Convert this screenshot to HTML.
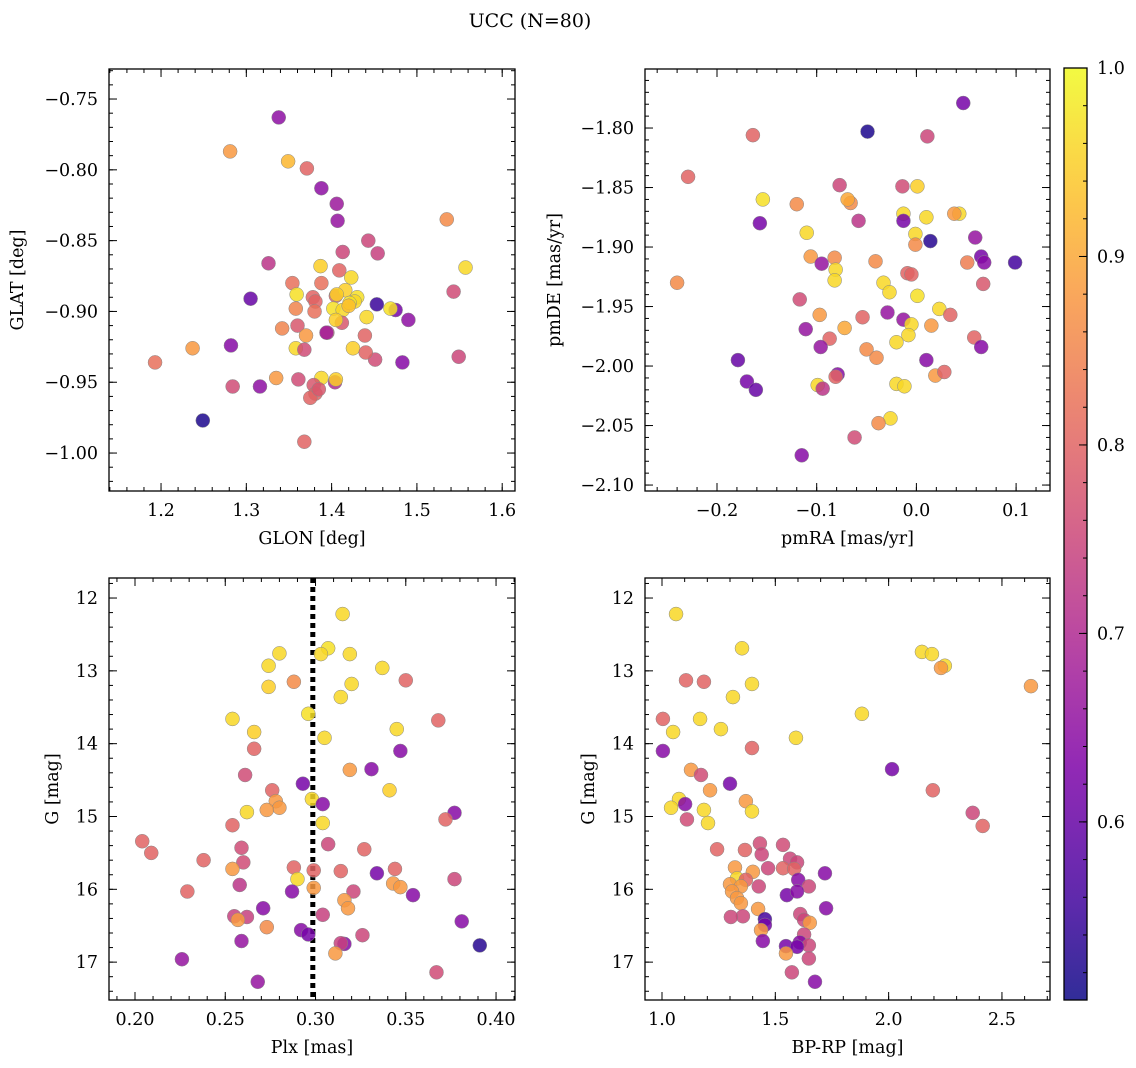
<!DOCTYPE html>
<html><head><meta charset="utf-8"><style>
body{margin:0;background:#fff}
svg{display:block;font-family:"DejaVu Serif","Liberation Serif",serif}
</style></head><body>
<svg id="fig" width="1136" height="1068" viewBox="0 0 1136 1068" xmlns="http://www.w3.org/2000/svg">
<text x="530" y="27" font-size="19" text-anchor="middle">UCC (N=80)</text>
</svg>
<script>
// ---- data (panel 1: GLON / GLAT) ----
const glon=[1.338,1.281,1.349,1.371,1.388,1.406,1.407,1.535,1.443,1.454,1.413,1.326,1.557,1.387,1.409,1.423,1.354,1.359,1.378,1.381,1.543,1.405,1.416,1.430,1.427,1.305,1.453,1.475,1.469,1.358,1.380,1.402,1.413,1.421,1.490,1.360,1.342,1.412,1.395,1.394,1.441,1.405,1.370,1.439,1.425,1.358,1.368,1.237,1.282,1.549,1.451,1.440,1.335,1.361,1.388,1.404,1.379,1.405,1.284,1.316,1.381,1.375,1.385,1.249,1.368,1.193,1.483,1.406,1.420,1.388];
const glat=[-0.763,-0.787,-0.794,-0.799,-0.813,-0.824,-0.836,-0.835,-0.850,-0.859,-0.858,-0.866,-0.869,-0.868,-0.871,-0.876,-0.880,-0.888,-0.890,-0.893,-0.886,-0.889,-0.885,-0.890,-0.893,-0.891,-0.895,-0.899,-0.898,-0.898,-0.900,-0.898,-0.899,-0.894,-0.906,-0.910,-0.912,-0.908,-0.915,-0.915,-0.904,-0.906,-0.917,-0.917,-0.926,-0.926,-0.927,-0.926,-0.924,-0.932,-0.934,-0.929,-0.947,-0.948,-0.947,-0.950,-0.952,-0.948,-0.953,-0.953,-0.958,-0.961,-0.955,-0.977,-0.992,-0.936,-0.936,-0.888,-0.896,-0.880];
const prob1=[0.65,0.88,0.92,0.80,0.65,0.67,0.66,0.86,0.75,0.74,0.75,0.72,0.96,0.95,0.80,0.96,0.82,0.97,0.80,0.80,0.76,0.80,0.95,0.97,0.96,0.60,0.55,0.62,0.97,0.85,0.82,0.97,0.96,0.97,0.65,0.78,0.85,0.78,0.75,0.68,0.96,0.95,0.88,0.80,0.95,0.96,0.76,0.88,0.64,0.75,0.76,0.80,0.88,0.76,0.96,0.70,0.78,0.95,0.76,0.65,0.80,0.80,0.78,0.52,0.80,0.82,0.64,0.95,0.93,0.82];
// ---- data (panel 2: pmRA / pmDE) ----
const pmra=[-0.164,0.047,-0.049,0.011,-0.229,-0.154,-0.077,-0.120,-0.014,0.001,-0.066,-0.069,-0.013,0.010,0.043,0.038,-0.058,-0.013,-0.157,-0.110,-0.001,0.014,0.059,-0.001,0.099,-0.106,-0.095,-0.082,-0.041,0.065,0.068,0.051,-0.009,-0.005,-0.081,-0.082,-0.240,-0.033,0.067,-0.027,0.001,-0.117,0.023,-0.029,-0.097,0.034,-0.054,-0.013,-0.005,0.015,-0.111,-0.072,-0.087,0.058,-0.020,-0.008,-0.050,-0.096,0.065,-0.040,0.010,-0.179,0.019,0.028,-0.079,-0.081,-0.170,-0.099,-0.020,-0.012,-0.094,-0.161,-0.026,-0.038,-0.062,-0.115];
const pmde=[-1.806,-1.779,-1.803,-1.807,-1.841,-1.860,-1.848,-1.864,-1.849,-1.849,-1.863,-1.860,-1.872,-1.875,-1.872,-1.872,-1.878,-1.878,-1.880,-1.888,-1.889,-1.895,-1.892,-1.898,-1.913,-1.908,-1.914,-1.909,-1.912,-1.908,-1.913,-1.913,-1.922,-1.923,-1.919,-1.928,-1.930,-1.930,-1.931,-1.938,-1.941,-1.944,-1.952,-1.955,-1.957,-1.957,-1.959,-1.961,-1.965,-1.966,-1.969,-1.968,-1.977,-1.976,-1.980,-1.974,-1.986,-1.984,-1.984,-1.993,-1.995,-1.995,-2.008,-2.005,-2.007,-2.009,-2.013,-2.016,-2.015,-2.017,-2.019,-2.020,-2.044,-2.048,-2.060,-2.075];
const prob2=[0.80,0.62,0.52,0.75,0.80,0.97,0.75,0.86,0.76,0.95,0.86,0.90,0.96,0.96,0.96,0.88,0.72,0.62,0.62,0.96,0.96,0.53,0.66,0.86,0.56,0.88,0.66,0.86,0.86,0.62,0.64,0.84,0.80,0.80,0.96,0.96,0.86,0.96,0.78,0.96,0.97,0.76,0.96,0.66,0.88,0.80,0.80,0.66,0.96,0.88,0.66,0.90,0.80,0.80,0.96,0.96,0.86,0.66,0.64,0.86,0.64,0.60,0.88,0.80,0.64,0.80,0.62,0.96,0.96,0.96,0.72,0.60,0.96,0.86,0.76,0.64];
// ---- data (panel 3: Plx / G) ----
const plx=[0.315,0.274,0.280,0.307,0.303,0.319,0.337,0.274,0.288,0.320,0.350,0.314,0.296,0.254,0.368,0.266,0.345,0.305,0.266,0.347,0.261,0.319,0.331,0.293,0.276,0.278,0.280,0.341,0.298,0.304,0.273,0.262,0.377,0.372,0.304,0.254,0.307,0.259,0.327,0.204,0.209,0.238,0.260,0.254,0.288,0.299,0.314,0.344,0.334,0.290,0.377,0.258,0.299,0.343,0.347,0.229,0.287,0.321,0.354,0.316,0.318,0.271,0.304,0.255,0.262,0.257,0.273,0.381,0.292,0.296,0.326,0.259,0.316,0.314,0.391,0.311,0.226,0.367,0.268];
const gmag3=[12.22,12.93,12.76,12.69,12.77,12.77,12.96,13.22,13.15,13.18,13.13,13.36,13.59,13.66,13.68,13.84,13.80,13.92,14.07,14.10,14.43,14.36,14.35,14.55,14.64,14.79,14.88,14.64,14.76,14.83,14.91,14.94,14.95,15.04,15.09,15.12,15.38,15.43,15.45,15.34,15.50,15.60,15.63,15.72,15.70,15.74,15.75,15.72,15.78,15.86,15.86,15.94,15.98,15.92,15.97,16.03,16.03,16.03,16.08,16.15,16.26,16.26,16.35,16.37,16.38,16.42,16.52,16.44,16.56,16.62,16.63,16.71,16.75,16.74,16.77,16.88,16.96,17.14,17.27];
const prob3=[0.96,0.96,0.96,0.97,0.96,0.96,0.96,0.95,0.86,0.96,0.80,0.96,0.97,0.96,0.80,0.95,0.96,0.96,0.80,0.64,0.76,0.88,0.64,0.62,0.80,0.88,0.88,0.95,0.96,0.64,0.88,0.96,0.64,0.80,0.96,0.80,0.75,0.76,0.80,0.80,0.80,0.80,0.76,0.88,0.80,0.80,0.80,0.80,0.62,0.96,0.75,0.72,0.88,0.88,0.88,0.80,0.64,0.75,0.64,0.88,0.88,0.64,0.74,0.74,0.74,0.88,0.86,0.64,0.64,0.62,0.75,0.66,0.64,0.74,0.53,0.88,0.66,0.76,0.66];
// ---- data (panel 4: BP-RP / G) ----
const bprp=[1.062,2.147,2.191,2.248,2.231,2.628,1.353,1.106,1.185,1.397,1.313,1.882,1.004,1.168,1.049,1.260,1.591,1.397,1.004,2.015,1.128,1.172,1.300,1.212,2.195,1.075,1.370,1.102,1.040,1.185,1.397,2.371,1.110,1.203,2.415,1.432,1.534,1.243,1.366,1.440,1.565,1.596,1.322,1.468,1.534,1.583,1.401,1.719,1.331,1.601,1.370,1.300,1.348,1.427,1.648,1.551,1.309,1.596,1.331,1.348,1.424,1.724,1.610,1.357,1.304,1.627,1.454,1.454,1.437,1.652,1.627,1.445,1.608,1.547,1.648,1.596,1.547,1.648,1.573,1.675];
const gmag4=[12.22,12.74,12.77,12.93,12.96,13.21,12.69,13.13,13.15,13.18,13.36,13.59,13.66,13.66,13.84,13.80,13.92,14.06,14.10,14.35,14.36,14.43,14.55,14.64,14.64,14.76,14.79,14.83,14.88,14.91,14.93,14.95,15.04,15.09,15.13,15.37,15.39,15.45,15.46,15.52,15.58,15.63,15.70,15.71,15.71,15.72,15.76,15.78,15.85,15.87,15.87,15.93,15.96,15.96,15.96,16.08,16.03,16.03,16.12,16.19,16.27,16.26,16.34,16.37,16.38,16.42,16.41,16.49,16.56,16.46,16.62,16.71,16.73,16.78,16.77,16.79,16.88,16.95,17.14,17.27];
const prob4=[0.96,0.96,0.96,0.96,0.88,0.88,0.96,0.80,0.80,0.96,0.96,0.96,0.80,0.96,0.96,0.96,0.96,0.80,0.64,0.62,0.88,0.76,0.62,0.88,0.80,0.96,0.88,0.64,0.96,0.96,0.96,0.75,0.76,0.96,0.80,0.76,0.76,0.80,0.80,0.75,0.75,0.75,0.88,0.75,0.80,0.80,0.88,0.64,0.96,0.64,0.80,0.88,0.88,0.75,0.75,0.62,0.88,0.64,0.88,0.88,0.88,0.64,0.75,0.75,0.75,0.75,0.56,0.62,0.88,0.88,0.75,0.64,0.64,0.62,0.75,0.62,0.88,0.75,0.75,0.64];
const plxRef=0.2985;
const cbMin=0.5055, cbMax=1.0;
const cbTicks=[0.6,0.7,0.8,0.9,1.0];

const NS="http://www.w3.org/2000/svg";
const svg=document.getElementById('fig');
function mk(tag,attrs,parent){const e=document.createElementNS(NS,tag);for(const k in attrs)e.setAttribute(k,attrs[k]);(parent||svg).appendChild(e);return e;}
const stops=[[0,[13,8,135]],[0.125,[75,3,161]],[0.25,[126,3,168]],[0.375,[170,35,149]],[0.5,[204,71,120]],[0.625,[230,108,92]],[0.75,[248,149,64]],[0.875,[253,196,39]],[1,[240,249,33]]];
function plasma(t){t=Math.max(0,Math.min(1,t));for(let i=1;i<stops.length;i++){if(t<=stops[i][0]){const a=stops[i-1],b=stops[i];const f=(t-a[0])/(b[0]-a[0]);const c=a[1].map((v,j)=>Math.round(v+(b[1][j]-v)*f));return `rgb(${c[0]},${c[1]},${c[2]})`;}}return 'rgb(240,249,33)';}
function col(p){return plasma((p-cbMin)/(cbMax-cbMin));}
function fmt(v,d){let s=v.toFixed(d);return s.replace('-','\u2212');}
const FS=17.5;

function panel(o){
  const g=mk('g',{});
  
  
  const {L,R,T,B}=o;
  const sx=v=>L+(v-o.x0)/(o.x1-o.x0)*(R-L);
  const sy=v=>o.yinv? T+(v-o.y0)/(o.y1-o.y0)*(B-T) : B-(v-o.y0)/(o.y1-o.y0)*(B-T);
  const tg=mk('g',{stroke:'#000','stroke-width':1},g);
  const xlo=Math.min(o.x0,o.x1),xhi=Math.max(o.x0,o.x1);
  for(let v=Math.ceil(xlo/o.xm-1e-6)*o.xm;v<=xhi+1e-9;v+=o.xm){const x=sx(v);mk('line',{x1:x,x2:x,y1:B,y2:B-4},tg);mk('line',{x1:x,x2:x,y1:T,y2:T+4},tg);}
  const ylo=Math.min(o.y0,o.y1),yhi=Math.max(o.y0,o.y1);
  for(let v=Math.ceil(ylo/o.ym-1e-6)*o.ym;v<=yhi+1e-9;v+=o.ym){const y=sy(v);mk('line',{x1:L,x2:L+4,y1:y,y2:y},tg);mk('line',{x1:R,x2:R-4,y1:y,y2:y},tg);}
  o.xt.forEach(v=>{const x=sx(v);mk('line',{x1:x,x2:x,y1:B,y2:B-8},tg);mk('line',{x1:x,x2:x,y1:T,y2:T+8},tg);
    const t=mk('text',{x:x,y:B+25,'font-size':FS,'text-anchor':'middle'},g);t.textContent=fmt(v,o.xd);
    });
  o.yt.forEach(v=>{const y=sy(v);mk('line',{x1:L,x2:L+8,y1:y,y2:y},tg);mk('line',{x1:R,x2:R-8,y1:y,y2:y},tg);
    const t=mk('text',{x:L-11,y:y+6,'font-size':FS,'text-anchor':'end'},g);t.textContent=fmt(v,o.yd);
    });
  if(o.vline!==undefined){const l=mk('line',{x1:sx(o.vline),x2:sx(o.vline),y1:T,y2:B,stroke:'#000','stroke-width':5,'stroke-dasharray':'5,4'},g);
    }
  const pg=mk('g',{},g);
  o.xs.forEach((xv,i)=>{const c=mk('circle',{cx:sx(xv),cy:sy(o.ys[i]),r:7,fill:col(o.ps[i]),'fill-opacity':0.85,stroke:'#888','stroke-width':0.5},pg);
    });
  const f=mk('rect',{x:L,y:T,width:R-L,height:B-T,fill:'none',stroke:'#000','stroke-width':1.3},g);
  
  const xl=mk('text',{x:(L+R)/2,y:B+53,'font-size':FS,'text-anchor':'middle'},g);xl.textContent=o.xlab;
  
  const yl=mk('text',{x:o.ylx,y:(T+B)/2,'font-size':FS,'text-anchor':'middle',transform:`rotate(-90 ${o.ylx} ${(T+B)/2})`},g);yl.textContent=o.ylab;
  
}
panel({name:'glon-glat-panel',L:109,R:515,T:69,B:491,x0:1.139,x1:1.615,y0:-1.0268,y1:-0.7288,xt:[1.2,1.3,1.4,1.5,1.6],xd:1,xm:0.02,yt:[-0.75,-0.8,-0.85,-0.9,-0.95,-1.0],yd:2,ym:0.01,xs:glon,ys:glat,ps:prob1,xlab:'GLON [deg]',ylab:'GLAT [deg]',ylx:23});
panel({name:'pm-panel',L:645,R:1050,T:69,B:491,x0:-0.2722,x1:0.134,y0:-2.105,y1:-1.7504,xt:[-0.2,-0.1,0.0,0.1],xd:1,xm:0.02,yt:[-1.8,-1.85,-1.9,-1.95,-2.0,-2.05,-2.1],yd:2,ym:0.01,xs:pmra,ys:pmde,ps:prob2,xlab:'pmRA [mas/yr]',ylab:'pmDE [mas/yr]',ylx:560});
panel({name:'plx-g-panel',L:109,R:515,T:578,B:1000,x0:0.1856,x1:0.4105,y0:11.725,y1:17.52,yinv:true,xt:[0.2,0.25,0.3,0.35,0.4],xd:2,xm:0.01,yt:[12,13,14,15,16,17],yd:0,ym:0.2,xs:plx,ys:gmag3,ps:prob3,vline:plxRef,xlab:'Plx [mas]',ylab:'G [mag]',ylx:58});
panel({name:'cmd-panel',L:645,R:1050,T:578,B:1000,x0:0.925,x1:2.712,y0:11.725,y1:17.52,yinv:true,xt:[1.0,1.5,2.0,2.5],xd:1,xm:0.1,yt:[12,13,14,15,16,17],yd:0,ym:0.2,xs:bprp,ys:gmag4,ps:prob4,xlab:'BP-RP [mag]',ylab:'G [mag]',ylx:594});

const cb=mk('g',{});


const defs=mk('defs',{},cb);const lg=mk('linearGradient',{id:'pl',x1:0,y1:1,x2:0,y2:0},defs);
for(let i=0;i<=20;i++){mk('stop',{offset:i/20,'stop-color':plasma(i/20),'stop-opacity':0.85},lg);}
const cL=1064,cR=1087,cT=68,cB=1000;
const cy=v=>cB-(v-cbMin)/(cbMax-cbMin)*(cB-cT);
mk('rect',{x:cL,y:cT,width:cR-cL,height:cB-cT,fill:'url(#pl)'},cb);
for(let v=0.52;v<=1.0001;v+=0.02){mk('line',{x1:cR,x2:cR-4,y1:cy(v),y2:cy(v),stroke:'#000'},cb);}
cbTicks.forEach(v=>{mk('line',{x1:cR,x2:cR-8,y1:cy(v),y2:cy(v),stroke:'#000'},cb);
  const t=mk('text',{x:cR+10,y:cy(v)+6,'font-size':FS},cb);t.textContent=v.toFixed(1);
  });
mk('rect',{x:cL,y:cT,width:cR-cL,height:cB-cT,fill:'none',stroke:'#000','stroke-width':1.3},cb);
</script>
</body></html>
